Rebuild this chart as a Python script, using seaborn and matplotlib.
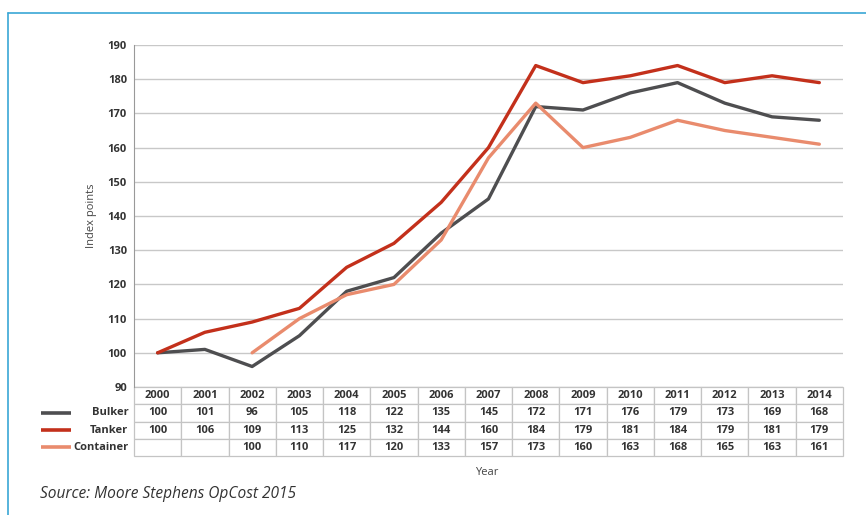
import numpy as np
import pandas as pd
import matplotlib
matplotlib.use("Agg")
import matplotlib.pyplot as plt
import seaborn as sns
from matplotlib.lines import Line2D

# ── Data ─────────────────────────────────────────────────────
years     = [2000, 2001, 2002, 2003, 2004, 2005, 2006, 2007,
             2008, 2009, 2010, 2011, 2012, 2013, 2014]
bulker    = [100, 101, 96, 105, 118, 122, 135, 145, 172, 171, 176, 179, 173, 169, 168]
tanker    = [100, 106, 109, 113, 125, 132, 144, 160, 184, 179, 181, 184, 179, 181, 179]
container = [None, None, 100, 110, 117, 120, 133, 157, 173, 160, 163, 168, 165, 163, 161]

series = {'Bulker': bulker, 'Tanker': tanker, 'Container': container}
colors = {'Bulker': '#4e4e50', 'Tanker': '#c3301b', 'Container': '#e98b6d'}

rows = []
for name, vals in series.items():
    for i, v in enumerate(vals):
        if v is not None:
            rows.append({'pos': i, 'value': v, 'series': name})
df = pd.DataFrame(rows)

# ── Figure ───────────────────────────────────────────────────
sns.set_style("white")
plt.rcParams['font.family'] = ['Open Sans', 'DejaVu Sans']

fig = plt.figure(figsize=(8.66, 5.15), dpi=100)
ax = fig.add_axes([0.1547, 0.2485, 0.8187, 0.6641])

sns.lineplot(data=df, x='pos', y='value', hue='series',
             hue_order=['Bulker', 'Tanker', 'Container'],
             palette=colors, linewidth=2.4, legend=False, ax=ax, zorder=3)

ax.set_xlim(-0.5, len(years) - 0.5)
ax.set_ylim(90, 190)
ax.set_yticks(range(90, 191, 10))
ax.set_yticklabels([str(t) for t in range(90, 191, 10)],
                   fontsize=8, fontweight='bold', color='#333333')
ax.set_xticks([])
ax.tick_params(axis='y', length=0, pad=5)
ax.yaxis.grid(True, color='#c8c8c8', linewidth=1)
for side in ['top', 'right', 'bottom']:
    ax.spines[side].set_visible(False)
ax.spines['left'].set_color('#999999')
ax.set_xlabel('')
ax.set_ylabel('Index points', fontsize=8, color='#444444', labelpad=8)

# ── Data table ───────────────────────────────────────────────
cell_text = [[str(y) for y in years]]
for name, vals in series.items():
    cell_text.append(['' if v is None else str(v) for v in vals])

tbl = ax.table(cellText=cell_text, cellLoc='center',
               bbox=[0, -0.202, 1, 0.202])
tbl.auto_set_font_size(False)
tbl.set_fontsize(8)
for (r, c), cell in tbl.get_celld().items():
    cell.set_edgecolor('#c4c4c4')
    cell.set_linewidth(0.9)
    cell.get_text().set_fontweight('bold')
    cell.get_text().set_color('#333333')

# row labels with legend keys
row_h = 0.202 / 4
for k, name in enumerate(series):
    yc = -row_h * (k + 1.5)
    ax.text(-0.008, yc, name, transform=ax.transAxes, ha='right', va='center',
            fontsize=8, fontweight='bold', color='#333333')
    ax.add_line(Line2D([-0.131, -0.089], [yc, yc], transform=ax.transAxes,
                       color=colors[name], linewidth=2.6, clip_on=False,
                       solid_capstyle='butt'))

fig.text(0.5624, 0.077, 'Year', fontsize=8, color='#444444', ha='center')
fig.text(0.046, 0.033, 'Source: Moore Stephens OpCost 2015',
         fontsize=11.2, style='italic', color='#333333')

# frame (top and left blue rules)
fig.add_artist(Line2D([0.0095, 1.0], [0.975, 0.975], transform=fig.transFigure,
                      color='#3aa7d6', linewidth=1.2))
fig.add_artist(Line2D([0.0095, 0.0095], [0.0, 0.975], transform=fig.transFigure,
                      color='#3aa7d6', linewidth=1.2))

plt.savefig('out.png', dpi=100)
